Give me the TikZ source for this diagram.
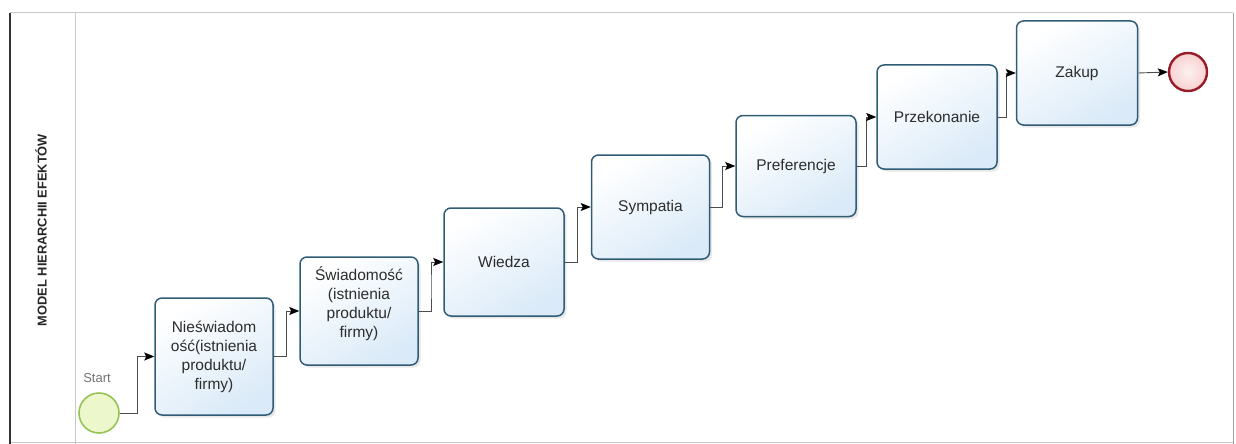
\documentclass[tikz,border=0pt]{standalone}
\usepackage{fontspec}
\setmainfont{Liberation Sans}
\usetikzlibrary{arrows.meta,calc,shadows}

\definecolor{taskline}{RGB}{48,92,118}
\definecolor{taskfill}{RGB}{218,234,248}
\definecolor{txt}{RGB}{45,45,45}
\definecolor{startfill}{RGB}{236,248,204}
\definecolor{startline}{RGB}{150,195,85}
\definecolor{endfill}{RGB}{248,208,208}
\definecolor{endline}{RGB}{150,28,40}
\definecolor{poolline}{RGB}{200,200,200}

\tikzset{
  tasktext/.style={align=center, text=txt, font=\fontsize{15.5}{19}\selectfont,
    inner sep=0pt},
  task/.style={tasktext, draw=taskline, line width=1.5pt, rounded corners=7pt,
    top color=white, bottom color=taskfill, shading angle=30,
    drop shadow={opacity=0.18, shadow xshift=2.5pt, shadow yshift=-2.5pt}},
  flow/.style={draw=black!70, line width=0.9pt,
    -{Stealth[length=10pt,width=8pt,inset=2pt,black]}},
  startev/.style={circle, draw=startline, line width=1.6pt, fill=startfill,
    minimum size=40pt, inner sep=0pt},
  endev/.style={circle, draw=endline, line width=2.4pt,
    inner color=white!70!endfill, outer color=endfill,
    minimum size=38pt, inner sep=0pt},
}

\begin{document}
\begin{tikzpicture}[x=1pt,y=-1pt]
  \useasboundingbox (0,0) rectangle (1236,444);

  % pool and lane
  \draw[poolline, line width=1pt] (10,13) -- (1233,13);
  \draw[poolline, line width=1pt] (10,442) -- (1233,442);
  \draw[poolline!80!black, line width=1pt] (1233,13) -- (1233,444);
  \draw[poolline, line width=1pt] (75,13) -- (75,444);
  \draw[black!80, line width=1.6pt] (10,13) -- (10,444);
  \node[rotate=90, font=\bfseries\fontsize{12.8}{14}\selectfont, text=black!85]
    (lane) at (41,230) {MODEL HIERARCHII EFEKTÓW};

  % events
  \node[startev] (start) at (99,413) {};
  \node[text=black!55, font=\fontsize{13}{15}\selectfont] (startlbl) at (97,378) {Start};
  \node[endev] (end) at (1188,72) {};

  % tasks
  \node[task, minimum width=118pt, minimum height=117pt] (t1) at (214,356.5)
    {Nieświadom\\ość(istnienia\\produktu/\\firmy)};
  \node[task, minimum width=118pt, minimum height=108pt] (t2) at (359,311) {};
  \node[tasktext] (t2label) at ($(t2.center)+(0,-7)$)
    {Świadomość\\(istnienia\\produktu/\\firmy)};
  \node[task, minimum width=120pt, minimum height=108pt] (t3) at (504,262) {Wiedza};
  \node[task, minimum width=118pt, minimum height=104pt] (t4) at (650.5,207) {Sympatia};
  \node[task, minimum width=120pt, minimum height=101pt] (t5) at (796,166) {Preferencje};
  \node[task, minimum width=120pt, minimum height=104pt] (t6) at (937,117) {Przekonanie};
  \node[task, minimum width=121pt, minimum height=104pt] (t7) at (1077,73) {Zakup};

  % sequence flows
  \foreach \a/\b in {start/t1, t1/t2, t2/t3, t3/t4, t4/t5, t5/t6, t6/t7}{
    \draw[flow] (\a.east) -| ($(\a.east)!.5!(\b.west)$) |- (\b.west);
  }
  \draw[flow] (t7.east) -- (end.west);
\end{tikzpicture}
\end{document}
